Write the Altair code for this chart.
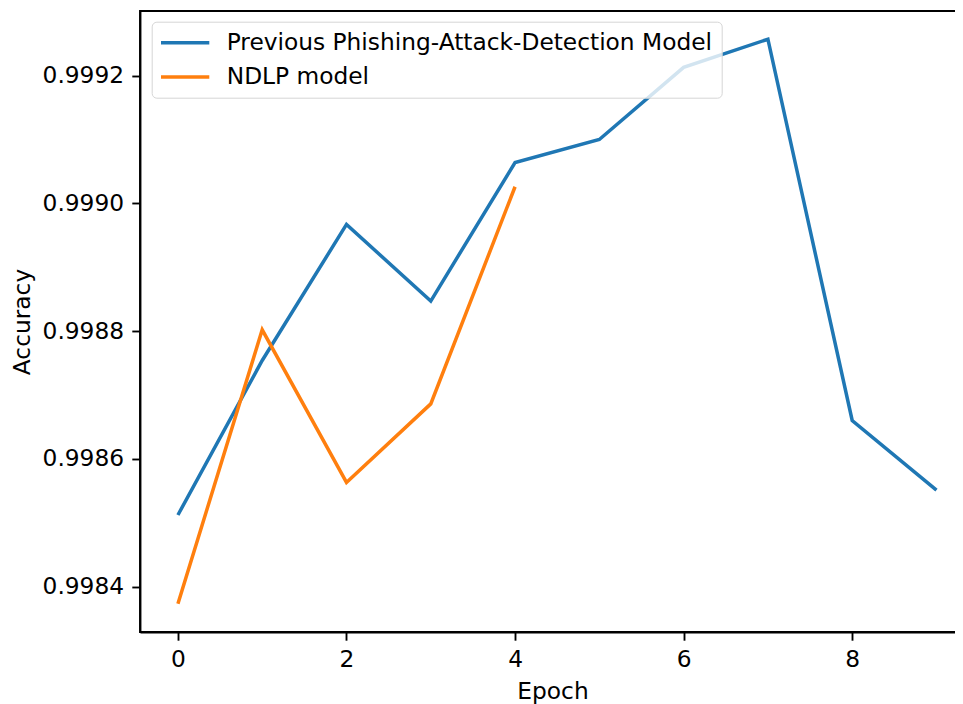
import altair as alt
import pandas as pd

# ---- data ----
series_names = ["Previous Phishing-Attack-Detection Model", "NDLP model"]
series_colors = ["#1f77b4", "#ff7f0e"]

epochs_prev = [0, 1, 2, 3, 4, 5, 6, 7, 8, 9]
acc_prev = [0.998512, 0.998754, 0.998967, 0.998847, 0.999064,
            0.999100, 0.999213, 0.999257, 0.998660, 0.998551]

epochs_ndlp = [0, 1, 2, 3, 4]
acc_ndlp = [0.998373, 0.998802, 0.998563, 0.998686, 0.999026]

x_ticks = [0, 2, 4, 6, 8]
y_ticks = [0.9984, 0.9986, 0.9988, 0.9990, 0.9992]

# ---- table ----
rows = []
for e, a in zip(epochs_prev, acc_prev):
    rows.append({"Epoch": e, "Accuracy": a, "Series": series_names[0]})
for e, a in zip(epochs_ndlp, acc_ndlp):
    rows.append({"Epoch": e, "Accuracy": a, "Series": series_names[1]})
df = pd.DataFrame(rows)

# matplotlib-like 5% margins; the original figure is cut at the right edge
all_x = epochs_prev + epochs_ndlp
all_y = acc_prev + acc_ndlp
xr = max(all_x) - min(all_x)
yr = max(all_y) - min(all_y)
FULL_W = 834.4          # full axes width in the original
VIEW_W = 825            # part of it drawn (right side is cut off)
x_lo = min(all_x) - 0.05 * xr
x_hi_full = max(all_x) + 0.05 * xr
x_dom = [x_lo, x_lo + (x_hi_full - x_lo) * VIEW_W / FULL_W]
y_dom = [min(all_y) - 0.05 * yr, max(all_y) + 0.05 * yr]

FONT = "DejaVu Sans"
FS = 23.3
SPINE = 1.87

chart = alt.Chart(df).mark_line(strokeWidth=3.5, clip=True).encode(
    x=alt.X("Epoch:Q",
            scale=alt.Scale(domain=x_dom, nice=False, zero=False),
            axis=alt.Axis(values=x_ticks, format="d", title="Epoch",
                          titleBaseline="alphabetic", titleY=66.3)),
    y=alt.Y("Accuracy:Q",
            scale=alt.Scale(domain=y_dom, nice=False, zero=False),
            axis=alt.Axis(values=y_ticks, format=".4f", title="Accuracy",
                          titleBaseline="alphabetic", titleX=-110.7)),
    color=alt.Color("Series:N",
                    scale=alt.Scale(domain=series_names, range=series_colors),
                    sort=series_names,
                    legend=alt.Legend(
                        title=None, orient="none", legendX=11.7, legendY=10.7,
                        symbolType="M-4.83,0H4.83", symbolSize=100,
                        symbolStrokeWidth=3.5, symbolOffset=12.5,
                        labelOffset=29.9, rowPadding=10.3, padding=9.3,
                        labelFont=FONT, labelFontSize=FS, labelColor="black",
                        fillColor="rgba(255,255,255,0.8)",
                        strokeColor="#d6d6d6", cornerRadius=4.7,
                        labelLimit=0,
                    )),
).properties(
    width=VIEW_W,
    height=621,
    background="white",
    autosize=alt.AutoSizeParams(type="none"),
    padding={"left": 132, "top": 3, "right": -10, "bottom": 72},
).configure_view(
    stroke="black", strokeWidth=SPINE, fill="white"
).configure_axis(
    grid=False,
    domainColor="black", domainWidth=SPINE,
    tickColor="black", tickWidth=SPINE, tickSize=8.2,
    labelFont=FONT, labelFontSize=FS, labelColor="black", labelPadding=8.2,
    titleFont=FONT, titleFontSize=FS, titleColor="black", titleFontWeight="normal",
)

chart.save("out.html", embed_options={"renderer": "svg", "actions": False})
